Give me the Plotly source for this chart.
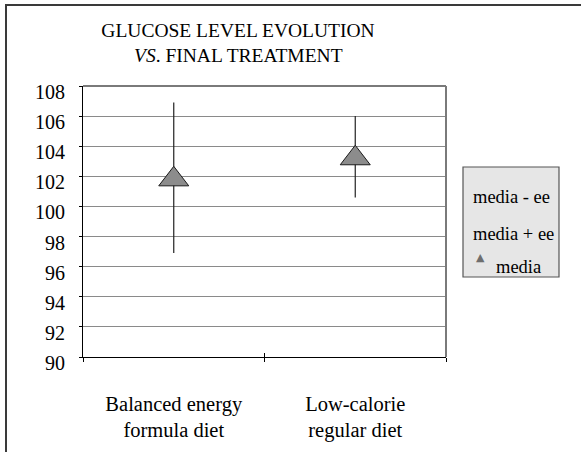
import plotly.graph_objects as go

categories = ["Balanced energy<br>formula diet", "Low-calorie<br>regular diet"]
media = [101.8, 103.2]
media_minus_ee = [96.9, 100.6]
media_plus_ee = [106.9, 106.0]
y_ticks = list(range(90, 110, 2))

FONT = "Liberation Serif"
W, H = 581, 452
L, R, T, B = 83, 135, 86, 95
PW, PH = W - L - R, H - T - B

def px(x):
    return (x - L) / PW

def py(y):
    return (H - B - y) / PH

xpos = list(range(len(categories)))

fig = go.Figure()
fig.add_trace(go.Scatter(
    x=xpos, y=media, mode="markers", name="media", showlegend=False,
    marker=dict(symbol="triangle-up", size=26, color="#8c8c8c",
                line=dict(color="#1a1a1a", width=1)),
    error_y=dict(type="data", symmetric=False,
                 array=[h - m for h, m in zip(media_plus_ee, media)],
                 arrayminus=[m - l for m, l in zip(media, media_minus_ee)],
                 width=0, thickness=1.2, color="#222222"),
))
# invisible trace on overlay axis for boundary tick marks
fig.add_trace(go.Scatter(x=[-0.5, 1.5], y=[media[0], media[0]], mode="markers",
                         marker=dict(opacity=0), showlegend=False, hoverinfo="skip",
                         xaxis="x2"))

fig.update_layout(
    width=W, height=H,
    margin=dict(l=L, r=R, t=T, b=B, autoexpand=False),
    paper_bgcolor="white", plot_bgcolor="white",
    font=dict(family=FONT, color="black", size=19),
    title=dict(text="GLUCOSE LEVEL EVOLUTION",
               x=px(238), xref="paper", xanchor="center",
               y=1 - 23 / H, yref="container", yanchor="top",
               font=dict(family=FONT, size=19.5, color="black")),
    xaxis=dict(range=[-0.5, 1.5], tickvals=xpos, ticktext=categories,
               ticks="", showgrid=False, zeroline=False,
               showline=True, linecolor="black", linewidth=1,
               ticklabelstandoff=28,
               tickfont=dict(family=FONT, size=20.5, color="black")),
    xaxis2=dict(range=[-0.5, 1.5], overlaying="x", anchor="y", side="bottom",
                tickvals=[-0.5, 0.5, 1.5], ticks="outside", ticklen=4,
                tickcolor="black", tickwidth=1, showticklabels=False,
                showgrid=False, zeroline=False, showline=False),
    yaxis=dict(range=[90, 108], tickvals=y_ticks, ticks="outside", ticklen=3,
               tickcolor="black", showgrid=True, gridcolor="#8a8a8a", gridwidth=1.3,
               zeroline=False, showline=True, linecolor="black", linewidth=1,
               ticklabelshift=6, ticklabelstandoff=10,
               tickfont=dict(family=FONT, size=20, color="black")),
    showlegend=False,
)

# second title line
fig.add_annotation(text="<i>VS</i>. FINAL TREATMENT", xref="paper", yref="paper",
                   x=px(238), y=py(55), xanchor="center", yanchor="middle",
                   showarrow=False, font=dict(family=FONT, size=19.5, color="black"))

# inside tick at the category boundary
fig.add_shape(type="line", xref="x", yref="paper", x0=0.5, x1=0.5, y0=0, y1=4 / PH,
              line=dict(color="black", width=1))
# plot area top/right border
fig.add_shape(type="line", xref="paper", yref="paper", x0=0, x1=1, y0=1, y1=1,
              line=dict(color="#7a7a7a", width=2))
fig.add_shape(type="line", xref="paper", yref="paper", x0=1, x1=1, y0=0, y1=1,
              line=dict(color="#7a7a7a", width=2))
# outer chart border
fig.add_shape(type="rect", xref="paper", yref="paper",
              x0=px(6), x1=px(W + 20), y0=py(H + 20), y1=py(5),
              line=dict(color="#3a3a3a", width=2), fillcolor="rgba(0,0,0,0)")
# legend box
fig.add_shape(type="rect", xref="paper", yref="paper",
              x0=px(463), x1=px(559), y0=py(277), y1=py(167),
              line=dict(color="#555555", width=1.2), fillcolor="#e6e6e6")

legend_font = dict(family=FONT, size=18.5, color="black")
fig.add_annotation(text="media - ee", xref="paper", yref="paper", x=px(471), y=py(197),
                   xanchor="left", yanchor="middle", showarrow=False, font=legend_font)
fig.add_annotation(text="media + ee", xref="paper", yref="paper", x=px(471), y=py(234),
                   xanchor="left", yanchor="middle", showarrow=False, font=legend_font)
fig.add_annotation(text="▲", xref="paper", yref="paper", x=px(480), y=py(257),
                   xanchor="center", yanchor="middle", showarrow=False,
                   font=dict(family="DejaVu Sans", size=11, color="#6e6e6e"))
fig.add_annotation(text="media", xref="paper", yref="paper", x=px(494), y=py(267),
                   xanchor="left", yanchor="middle", showarrow=False, font=legend_font)

fig.write_html("out.html", config={"displayModeBar": False},
               post_script="document.body.style.margin='0px';")
